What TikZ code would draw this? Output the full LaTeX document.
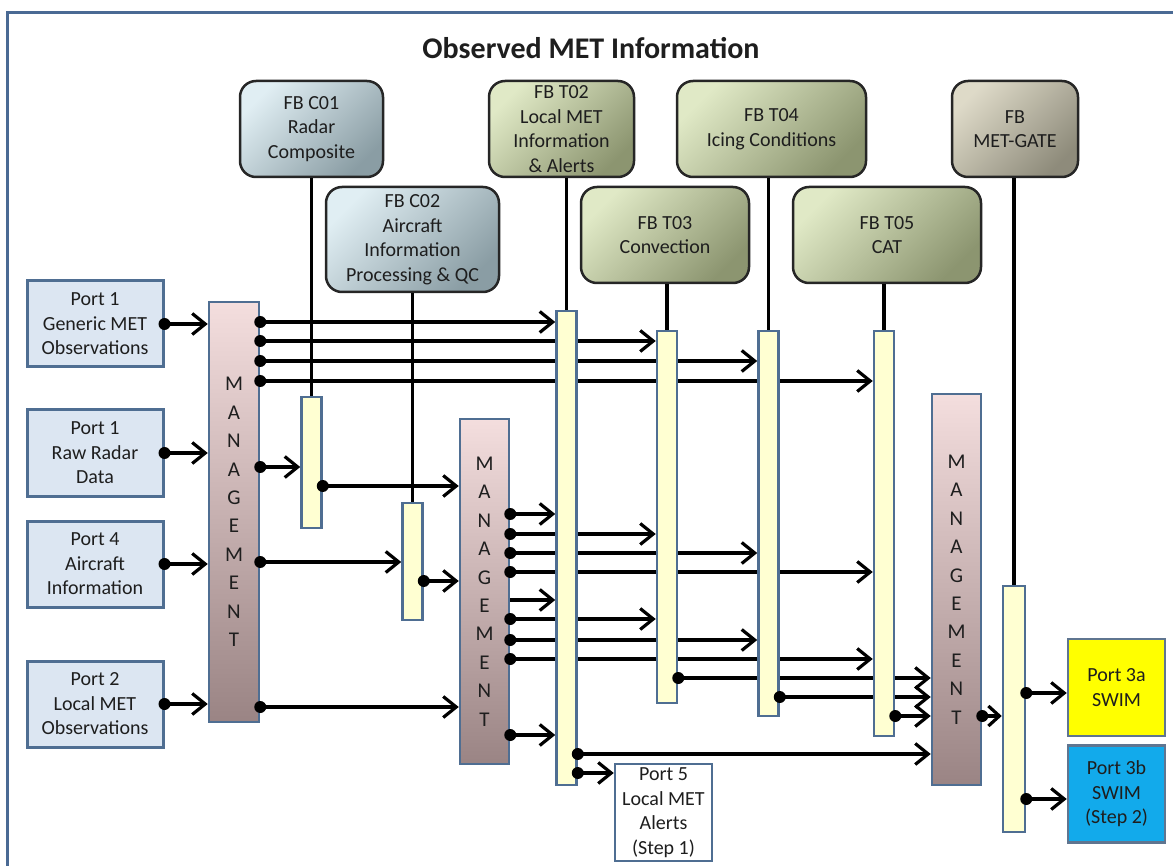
\documentclass[tikz,border=0pt]{standalone}
\usepackage{fontspec}
\setmainfont{Carlito}
\usetikzlibrary{arrows.meta}
\pgfdeclarelayer{bg}
\pgfdeclarelayer{fg}
\pgfsetlayers{bg,main,fg}
\definecolor{frameblue}{HTML}{4A6A94}
\definecolor{barblue}{HTML}{4F6E92}
\definecolor{portfill}{HTML}{DCE6F2}
\definecolor{barfill}{HTML}{FFFFD2}
\definecolor{mgtop}{HTML}{F4DEDE}
\definecolor{mgbot}{HTML}{9A8484}
\definecolor{blueA}{HTML}{E0EEF3}
\definecolor{blueB}{HTML}{8A9DA4}
\definecolor{greenA}{HTML}{E0E9C6}
\definecolor{greenB}{HTML}{8C9570}
\definecolor{grayA}{HTML}{DEDAC8}
\definecolor{grayB}{HTML}{8E8B7B}
\definecolor{txt}{HTML}{1E1E1E}
\definecolor{swimyellow}{HTML}{FFFF00}
\definecolor{swimblue}{HTML}{12AAEB}
\definecolor{swimborder}{HTML}{5F7590}
\newcommand\myconn[2]{%
  \begin{pgfonlayer}{bg}\draw[conn] #1 -- #2;\end{pgfonlayer}%
  \begin{pgfonlayer}{fg}\fill #1 circle (6pt);\end{pgfonlayer}}
\newcommand\myarrow[2]{%
  \begin{pgfonlayer}{bg}\draw[conn] #1 -- #2;\end{pgfonlayer}}
\begin{document}
\begin{tikzpicture}[x=1pt,y=-1pt,
  every node/.style={font=\fontsize{20}{24.5}\selectfont, text=txt, inner sep=0pt, align=center},
  conn/.style={line width=3.2pt, -{Straight Barb[length=13pt,width=21pt]}},
  conntwo/.style={line width=3.2pt, -{Straight Barb[length=11pt,width=20pt] Straight Barb[length=11pt,width=20pt]}},
  vline/.style={line width=3.2pt},
  port/.style={draw=barblue, line width=3pt, fill=portfill, minimum width=136pt, minimum height=86pt},
  fb/.style={draw=black!85, line width=2.5pt, rounded corners=16pt},
  fbblue/.style={fb, top color=blueA, bottom color=blueB, shading angle=45},
  fbgreen/.style={fb, top color=greenA, bottom color=greenB, shading angle=45},
  fbgray/.style={fb, top color=grayA, bottom color=grayB, shading angle=45},
  mgmt/.style={draw=barblue, line width=2.5pt, top color=mgtop, bottom color=mgbot, minimum width=49pt, font=\fontsize{21}{28.4}\selectfont},
  bar/.style={draw=barblue, line width=2.5pt, fill=barfill, minimum width=20pt},
  outport/.style={draw=swimborder, line width=2.5pt, minimum width=97pt, minimum height=97pt}
]
\useasboundingbox (0,0) rectangle (1173,866);
\draw[frameblue, line width=3pt] (7,13) rectangle (1195,890);

\node[font=\fontsize{30}{36}\selectfont\bfseries] (title) at (591,48) {Observed MET Information};

% FB boxes
\node[fbblue, minimum width=143pt, minimum height=96pt] (fc01) at (311.5,129) {FB C01\\Radar\\Composite};
\node[fbblue, minimum width=173pt, minimum height=105pt] (fc02) at (412.5,239.5) {FB C02\\Aircraft\\Information\\Processing \& QC};
\node[fbgreen, minimum width=145pt, minimum height=96pt] (ft02) at (561.5,129) {FB T02\\Local MET\\Information\\\& Alerts};
\node[fbgreen, minimum width=189pt, minimum height=96pt] (ft04) at (771.5,129) {FB T04\\Icing Conditions};
\node[fbgreen, minimum width=168pt, minimum height=96pt] (ft03) at (665,235) {FB T03\\Convection};
\node[fbgreen, minimum width=188pt, minimum height=96pt] (ft05) at (887,235) {FB T05\\CAT};
\node[fbgray, minimum width=126pt, minimum height=96pt] (fgate) at (1015,129) {FB\\MET-GATE};

% ports
\node[port] (pgen) at (95,324) {Port 1\\Generic MET\\Observations};
\node[port] (praw) at (95,453) {Port 1\\Raw Radar\\Data};
\node[port] (pair) at (95,564) {Port 4\\Aircraft\\Information};
\node[port] (ploc) at (95,704) {Port 2\\Local MET\\Observations};

% management
\node[mgmt, minimum width=50pt, minimum height=420pt] (m1) at (234,512) {M\\A\\N\\A\\G\\E\\M\\E\\N\\T};
\node[mgmt, minimum height=345pt] (m2) at (484.5,591.5) {M\\A\\N\\A\\G\\E\\M\\E\\N\\T};
\node[mgmt, minimum height=391pt] (m3) at (956.5,589.5) {M\\A\\N\\A\\G\\E\\M\\E\\N\\T};

% bars
\node[bar, minimum height=131pt] (bc01) at (311.5,462.5) {};
\node[bar, minimum height=117pt] (bc02) at (412.5,561.5) {};
\node[bar, minimum height=474pt] (bt02) at (566.5,548) {};
\node[bar, minimum height=372pt] (bt03) at (667,517) {};
\node[bar, minimum height=385pt] (bt04) at (768.5,523.5) {};
\node[bar, minimum height=405pt] (bt05) at (884,533.5) {};
\node[bar, minimum width=22pt, minimum height=246pt] (bgate) at (1014,709) {};

% output ports
\node[outport, draw=barblue, fill=white] (p5) at (663.5,812.5) {Port 5\\Local MET\\Alerts\\(Step 1)};
\node[outport, fill=swimyellow] (p3a) at (1116.5,687.5) {Port 3a\\SWIM};
\node[outport, fill=swimblue] (p3b) at (1116.5,794) {Port 3b\\SWIM\\(Step 2)};

% vertical lines from FBs
\draw[vline] (fc01.south -| bc01.north) -- (bc01.north);
\draw[vline] (fc02.south -| bc02.north) -- (bc02.north);
\draw[vline] (ft02.south -| bt02.north) -- (bt02.north);
\draw[vline] (ft03.south -| bt03.north) -- (bt03.north);
\draw[vline] (ft04.south -| bt04.north) -- (bt04.north);
\draw[vline] (ft05.south -| bt05.north) -- (bt05.north);
\draw[vline] (fgate.south -| bgate.north) -- (bgate.north);

% ports to M1
\myconn{(pgen.east)}{(m1.west |- pgen.east)}
\myconn{(praw.east)}{(m1.west |- praw.east)}
\myconn{(pair.east)}{(m1.west |- pair.east)}
\myconn{(ploc.east)}{(m1.west |- ploc.east)}

% M1 outputs
\myconn{(m1.east |- 0,322)}{(bt02.west |- 0,322)}
\myconn{(m1.east |- 0,341)}{(bt03.west |- 0,341)}
\myconn{(m1.east |- 0,361)}{(bt04.west |- 0,361)}
\myconn{(m1.east |- 0,381)}{(bt05.west |- 0,381)}
\myconn{(m1.east |- 0,467)}{(bc01.west |- 0,467)}
\myconn{(m1.east |- 0,562)}{(bc02.west |- 0,562)}
\myconn{(m1.east |- 0,707)}{(m2.west |- 0,707)}

% C bars to M2
\myconn{(bc01.east |- 0,486)}{(m2.west |- 0,486)}
\myconn{(bc02.east |- 0,581)}{(m2.west |- 0,581)}

% M2 outputs
\myconn{(m2.east |- 0,514)}{(bt02.west |- 0,514)}
\myconn{(m2.east |- 0,534)}{(bt03.west |- 0,534)}
\myconn{(m2.east |- 0,553)}{(bt04.west |- 0,553)}
\myconn{(m2.east |- 0,572)}{(bt05.west |- 0,572)}
\myarrow{(m2.east |- 0,600)}{(bt02.west |- 0,600)}
\myconn{(m2.east |- 0,619)}{(bt03.west |- 0,619)}
\myconn{(m2.east |- 0,640)}{(bt04.west |- 0,640)}
\myconn{(m2.east |- 0,659)}{(bt05.west |- 0,659)}
\myconn{(m2.east |- 0,735)}{(bt02.west |- 0,735)}

% T bars to M3 and Port 5
\myconn{(bt03.east |- 0,678)}{(m3.west |- 0,678)}
\myconn{(bt04.east |- 0,697)}{(m3.west |- 0,697)}
\myconn{(bt05.east |- 0,716)}{(m3.west |- 0,716)}
\myconn{(bt02.east |- 0,754)}{(m3.west |- 0,754)}
\myconn{(bt02.east |- 0,773)}{(p5.west |- 0,773)}

% M3 to gate
\begin{pgfonlayer}{bg}\draw[conntwo] (m3.east |- 0,716) -- (bgate.west |- 0,716);\end{pgfonlayer}
\begin{pgfonlayer}{fg}\fill (m3.east |- 0,716) circle (6pt);\end{pgfonlayer}

% gate to SWIM
\myconn{(bgate.east |- 0,693)}{(p3a.west |- 0,693)}
\myconn{(bgate.east |- 0,799)}{(p3b.west |- 0,799)}
\end{tikzpicture}
\end{document}
